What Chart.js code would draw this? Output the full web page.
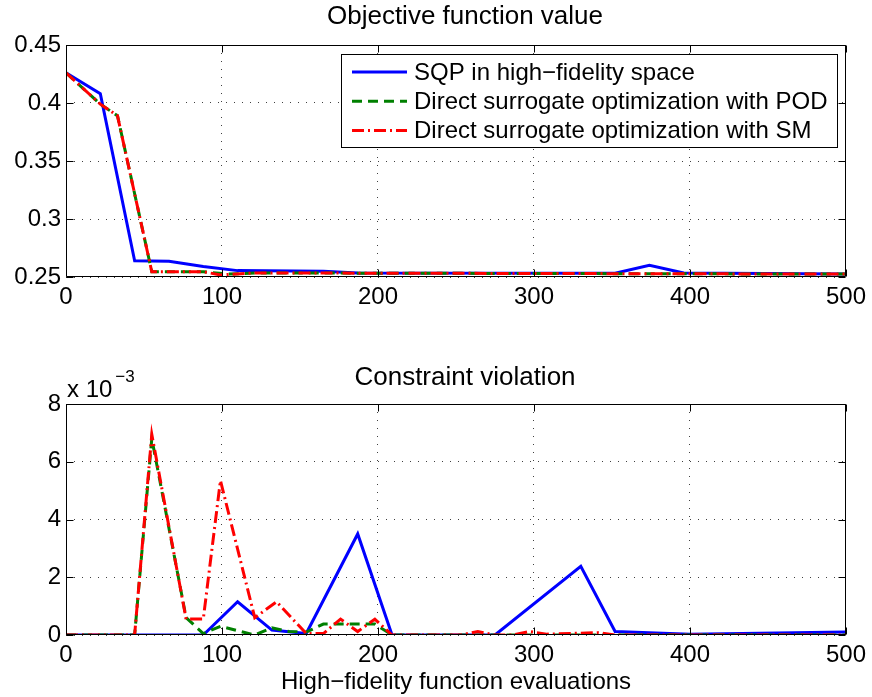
<!DOCTYPE html>
<html>
<head>
<meta charset="utf-8">
<script src="https://cdn.jsdelivr.net/npm/chart.js@4.4.0/dist/chart.umd.min.js"></script>
<style>
  html, body { margin: 0; padding: 0; background: #fff; }
  #wrap1 { position: absolute; left: 0; top: 0; width: 872px; height: 330px; }
  #wrap2 { position: absolute; left: 0; top: 340px; width: 872px; height: 357px; }
</style>
</head>
<body>
<div id="wrap1"><canvas id="objChart"></canvas></div>
<div id="wrap2"><canvas id="conChart"></canvas></div>
<script>
// ---- data ----
const seriesNames = ['SQP in high\u2212fidelity space', 'Direct surrogate optimization with POD', 'Direct surrogate optimization with SM'];

// objective function value
const sqpObjX = [0, 22, 44, 66, 88, 110, 165, 187, 352, 374, 396, 500];
const sqpObjY = [0.426, 0.408, 0.264, 0.2635, 0.259, 0.2555, 0.255, 0.2535, 0.2532, 0.2600, 0.2535, 0.2525];
const podObjX = [0, 22, 33, 55, 88, 104, 121, 500];
const podObjY = [0.426, 0.399, 0.389, 0.2545, 0.2545, 0.2525, 0.2535, 0.2525];
const smObjX = [0, 22, 33, 55, 88, 99, 121, 500];
const smObjY = [0.426, 0.399, 0.389, 0.2545, 0.2545, 0.2518, 0.2535, 0.2525];

// constraint violation (x 10^-3)
const sqpConX = [0, 88, 110, 132, 154, 187, 209, 275, 330, 352, 400, 500];
const sqpConY = [0, 0, 1.15, 0.17, 0.05, 3.5, 0, 0, 2.38, 0.12, 0.03, 0.1];
const podConX = [0, 44, 55, 77, 88, 99, 121, 132, 143, 154, 165, 198, 209, 500];
const podConY = [0, 0, 6.8, 0.6, 0.05, 0.3, 0, 0.25, 0.12, 0.1, 0.38, 0.38, 0, 0];
const smConX = [0, 44, 55, 77, 88, 99, 121, 135, 154, 165, 176, 187, 198, 209, 253, 264, 275, 286, 297, 308, 341, 352, 500];
const smConY = [0, 0, 6.95, 0.55, 0.55, 5.35, 0.6, 1.15, 0.05, 0.05, 0.55, 0.12, 0.55, 0, 0, 0.12, 0, 0, 0.12, 0.03, 0.08, 0, 0];

const xTicks = [0, 100, 200, 300, 400, 500];
const objTicks = [0.25, 0.3, 0.35, 0.4, 0.45];
const conTicks = [0, 2, 4, 6, 8];

const fontFam = '"Liberation Sans", Arial, Helvetica, sans-serif';
Chart.defaults.font.family = fontFam;
Chart.defaults.color = '#000';

function pts(xs, ys) {
    return xs.map((x, i) => ({ x: x, y: ys[i] }));
}

function makeSets(bx, by, gx, gy, rx, ry) {
    return [
        { label: seriesNames[0], data: pts(bx, by), borderColor: '#0000ff', borderWidth: 3, order: 3 },
        { label: seriesNames[1], data: pts(gx, gy), borderColor: '#008000', borderWidth: 3, borderDash: [10, 6], order: 2 },
        { label: seriesNames[2], data: pts(rx, ry), borderColor: '#ff0000', borderWidth: 3, borderDash: [12, 4, 2, 4], order: 1 }
    ];
}

// box round the axes with inward tick marks (matlab style)
const frame = {
    id: 'frame',
    afterDraw(chart) {
        const { ctx, chartArea: a, scales } = chart;
        const L = Math.round(a.left) + 0.5, R = Math.round(a.right) - 0.5;
        const T = Math.round(a.top) + 0.5, B = Math.round(a.bottom) - 0.5;
        ctx.save();
        ctx.strokeStyle = '#000';
        ctx.lineWidth = 1;
        ctx.beginPath();
        ctx.rect(L, T, R - L, B - T);
        scales.x.ticks.forEach(t => {
            const px = Math.round(scales.x.getPixelForValue(t.value)) + 0.5;
            ctx.moveTo(px, B); ctx.lineTo(px, B - 7);
            ctx.moveTo(px, T); ctx.lineTo(px, T + 7);
        });
        scales.y.ticks.forEach(t => {
            const py = Math.round(scales.y.getPixelForValue(t.value)) + 0.5;
            ctx.moveTo(L, py); ctx.lineTo(L + 7, py);
            ctx.moveTo(R, py); ctx.lineTo(R - 7, py);
        });
        ctx.stroke();
        ctx.restore();
    }
};

// axes title, centred a little right of the plot centre like the original
const plotTitle = {
    id: 'plotTitle',
    afterDraw(chart, args, opts) {
        const { ctx, chartArea: a } = chart;
        ctx.save();
        ctx.fillStyle = '#000';
        ctx.font = '26px ' + fontFam;
        ctx.textAlign = 'center';
        ctx.textBaseline = 'middle';
        ctx.fillText(opts.text, (a.left + a.right) / 2 + 9, opts.y);
        ctx.restore();
    }
};

// legend box inside the upper plot
const boxLegend = {
    id: 'boxLegend',
    afterDraw(chart) {
        const { ctx, chartArea: a } = chart;
        const left = Math.round(a.right) - 505, top = Math.round(a.top) + 9;
        const w = 496, h = 93, rowH = 29.3;
        ctx.save();
        ctx.fillStyle = '#fff';
        ctx.fillRect(left, top, w, h);
        ctx.strokeStyle = '#000';
        ctx.lineWidth = 1;
        ctx.strokeRect(left + 0.5, top + 0.5, w, h);
        chart.data.datasets.forEach((ds, i) => {
            const y = top + 18 + i * rowH;
            ctx.strokeStyle = ds.borderColor;
            ctx.lineWidth = ds.borderWidth;
            ctx.setLineDash(ds.borderDash || []);
            ctx.beginPath();
            ctx.moveTo(left + 11, y);
            ctx.lineTo(left + 66, y);
            ctx.stroke();
            ctx.setLineDash([]);
            ctx.fillStyle = '#000';
            ctx.font = '24px ' + fontFam;
            ctx.textBaseline = 'middle';
            ctx.fillText(ds.label, left + 73, y + 1);
        });
        ctx.restore();
    }
};

// "x 10^-3" multiplier above the lower y axis
const expLabel = {
    id: 'expLabel',
    afterDraw(chart) {
        const { ctx, chartArea: a } = chart;
        ctx.save();
        ctx.fillStyle = '#000';
        ctx.textBaseline = 'alphabetic';
        ctx.font = '24px ' + fontFam;
        ctx.fillText('x 10', a.left + 1, a.top - 7);
        const w = ctx.measureText('x 10').width;
        ctx.font = '17px ' + fontFam;
        ctx.fillText('\u22123', a.left + w + 4, a.top - 22);
        ctx.restore();
    }
};

function scaleOpts(tickVals, fmt, axisHeight, xTitle) {
    const gridStyle = { color: 'rgba(0,0,0,0.75)', lineWidth: 1, drawTicks: false };
    const border = { display: false, dash: [1, 7] };
    return {
        x: {
            type: 'linear', min: 0, max: 500,
            afterBuildTicks: s => { s.ticks = xTicks.map(v => ({ value: v })); },
            afterFit: s => { s.height = axisHeight; },
            grid: gridStyle, border: border,
            ticks: { font: { size: 24 }, padding: 6, maxRotation: 0, color: '#000' },
            title: xTitle ? { display: true, text: xTitle, font: { size: 24 }, color: '#000', padding: { top: 0, bottom: 0 } } : { display: false }
        },
        y: {
            type: 'linear', min: tickVals[0], max: tickVals[tickVals.length - 1],
            afterBuildTicks: s => { s.ticks = tickVals.map(v => ({ value: v })); },
            afterFit: s => { s.width = 66; },
            grid: gridStyle, border: border,
            ticks: { font: { size: 24 }, padding: 5, color: '#000', callback: fmt }
        }
    };
}

function makeChart(id, datasets, title, titleY, topPad, tickVals, fmt, axisHeight, xTitle, extra) {
    return new Chart(document.getElementById(id), {
        type: 'line',
        data: { datasets: datasets },
        options: {
            responsive: true,
            maintainAspectRatio: false,
            animation: false,
            elements: { point: { radius: 0 }, line: { tension: 0, fill: false } },
            layout: { padding: { top: topPad, right: 24, bottom: 0, left: 0 } },
            scales: scaleOpts(tickVals, fmt, axisHeight, xTitle),
            plugins: {
                legend: { display: false },
                tooltip: { enabled: false },
                title: { display: false },
                plotTitle: { text: title, y: titleY }
            }
        },
        plugins: [frame, plotTitle].concat(extra)
    });
}

const objChart = makeChart('objChart',
    makeSets(sqpObjX, sqpObjY, podObjX, podObjY, smObjX, smObjY),
    'Objective function value', 17, 45,
    objTicks, v => String(Number(v.toFixed(2))), 53, null, [boxLegend]);

const conChart = makeChart('conChart',
    makeSets(sqpConX, sqpConY, podConX, podConY, smConX, smConY),
    'Constraint violation', 38, 64,
    conTicks, v => String(v), 62, 'High\u2212fidelity function evaluations', [expLabel]);
</script>
</body>
</html>
